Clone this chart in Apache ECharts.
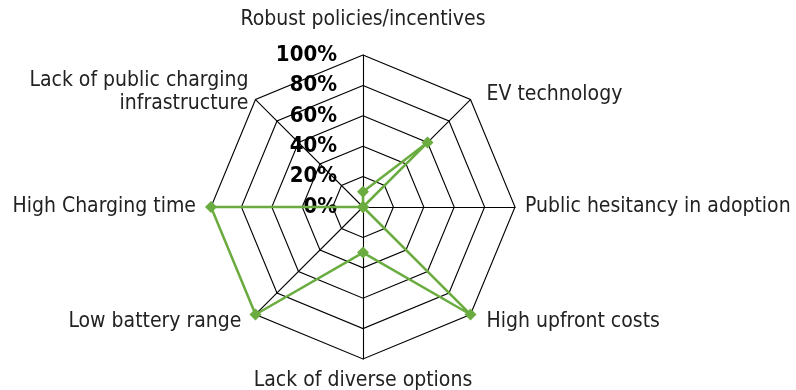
<!DOCTYPE html>
<html>
<head>
<meta charset="utf-8">
<script src="https://cdn.jsdelivr.net/npm/echarts@6/dist/echarts.min.js"></script>
<style>
  html, body { margin: 0; padding: 0; background: #fff; }
  #chart { width: 796px; height: 390px; }
</style>
</head>
<body>
<div id="chart"></div>
<script>
// indicators listed counter-clockwise from the top (ECharts radar order)
let indicatorNames = [
    'Robust policies/incentives',
    'Lack of public charging\ninfrastructure',
    'High Charging time',
    'Low battery range',
    'Lack of diverse options',
    'High upfront costs',
    'Public hesitancy in adoption',
    'EV technology'
];
let shareValues = [10, 0, 100, 100, 30, 100, 0, 60];
let tickLabels = ['0%', '20%', '40%', '60%', '80%', '100%'];

let fontFamily = '"DejaVu Sans Condensed", "DejaVu Sans", sans-serif';

// small nudges so the names sit like the original labels
let nameStyleKeys = ['top', 'nw', 'w', 'sw', 's', 'se', 'e', 'ne'];
let nameRich = {};
let nudges = {
    top: [0, 0, 14, 0],
    nw: [0, 0, 0, 0],
    w: [0, 5, 0, 0],
    sw: [0, 7, 0, 0],
    s: [0, 0, 0, 0],
    se: [0, 0, 0, 9],
    e: [0, 0, 0, 0],
    ne: [4, 0, 0, 9]
};
nameStyleKeys.forEach(function(k){
    nameRich[k] = { fontSize: 21, fontFamily: fontFamily, color: '#222', lineHeight: 23, padding: nudges[k] };
});

let indicators = indicatorNames.map(function(n, i){
    let ind = { name: n, min: 0, max: 100 };
    if (i === 0){
        ind.axisLabel = {
            show: true,
            color: '#000',
            fontWeight: 'bold',
            fontSize: 22,
            fontFamily: fontFamily,
            margin: 26,
            formatter: function(v){ return tickLabels[Math.round(v / 20)]; }
        };
    }
    return ind;
});

let chart = echarts.init(document.getElementById('chart'));
chart.setOption({
    backgroundColor: '#fff',
    animation: false,
    radar: {
        center: [363, 207],
        radius: 152,
        startAngle: 90,
        shape: 'polygon',
        splitNumber: 5,
        indicator: indicators,
        nameGap: 10,
        axisName: {
            color: '#222',
            fontSize: 21,
            fontFamily: fontFamily,
            lineHeight: 23,
            formatter: function(name){
                let i = indicatorNames.indexOf(name);
                if (i === 1) return name;
                return '{' + nameStyleKeys[i] + '|' + name + '}';
            },
            rich: nameRich
        },
        axisLabel: { show: false },
        axisTick: { show: false },
        axisLine: { lineStyle: { color: '#000', width: 1.1 } },
        splitLine: { lineStyle: { color: '#000', width: 1.1 } },
        splitArea: { show: false }
    },
    series: [{
        type: 'radar',
        symbol: 'diamond',
        symbolSize: 12,
        lineStyle: { color: '#6aac3f', width: 2.5 },
        itemStyle: { color: '#6aac3f' },
        data: [{ value: shareValues, name: 'Share' }]
    }]
});
</script>
</body>
</html>
